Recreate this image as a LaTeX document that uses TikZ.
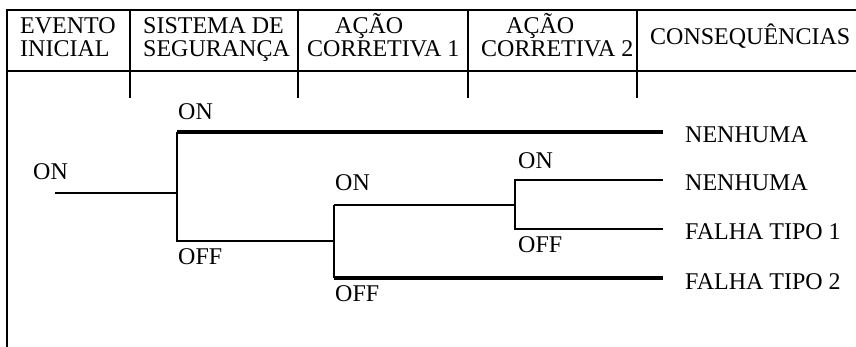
\documentclass[tikz,border=0pt]{standalone}
\usepackage{fontspec}
\setmainfont{Liberation Serif}
\begin{document}
\begin{tikzpicture}[x=1pt,y=-1pt,
  txt/.style={inner sep=0pt,anchor=west,text height=16pt,text depth=0pt,font=\fontsize{24}{24}\selectfont},
  frame/.style={line width=2.6pt,line cap=rect},
  branch/.style={line width=2.8pt},
  endbranch/.style={line width=4.2pt}]
\useasboundingbox (0,0) rectangle (856,347);
% frame
\coordinate (tl) at (7,10);
\coordinate (tr) at (856,10);
\coordinate (ml) at (7,71);
\coordinate (mr) at (856,71);
\coordinate (bl) at (7,347);
\draw[frame] (tr) -- (tl) -- (bl);
\draw[frame] (ml) -- (mr);
\foreach \x/\n in {130/a,298/b,468/c,637/d}{
  \coordinate (d\n1) at (\x,10);
  \coordinate (d\n2) at (\x,97);
  \draw[frame] (d\n1) -- (d\n2);
}
% header texts
\node[txt] (h1a) at (20,26) {EVENTO};
\node[txt] (h1b) at (20,49) {INICIAL};
\node[txt] (h2a) at (143,26) {SISTEMA DE};
\node[txt] (h2b) at (143,49) {SEGURANÇA};
\node[txt] (h3a) at (335,26) {AÇÃO};
\node[txt] (h3b) at (307,49) {CORRETIVA 1};
\node[txt] (h4a) at (506,26) {AÇÃO};
\node[txt] (h4b) at (481,49) {CORRETIVA 2};
\node[txt] (h5) at (650,37) {CONSEQUÊNCIAS};
% tree points
\coordinate (s) at (55,193);
\coordinate (j1) at (177,193);
\coordinate (j1t) at (177,132);
\coordinate (j1b) at (177,241);
\coordinate (j2) at (334,241);
\coordinate (j2t) at (334,205);
\coordinate (j2b) at (334,278);
\coordinate (j3) at (515,205);
\coordinate (j3t) at (515,180);
\coordinate (j3b) at (515,229);
\coordinate (e1) at (663,132);
\coordinate (e2) at (663,180);
\coordinate (e3) at (663,229);
\coordinate (e4) at (663,278);
\draw[branch] (s) -- (j1);
\draw[branch] (j1t) -- (j1b) -- (j2);
\draw[endbranch] (j1t) -- (e1);
\draw[branch] (j2t) -- (j2b);
\draw[branch] (j2t) -- (j3);
\draw[endbranch] (j2b) -- (e4);
\draw[branch] (e2) -- (j3t) -- (j3b) -- (e3);
% branch labels
\node[txt] (l0) at (33,172) {ON};
\node[txt] (l1) at (178,112) {ON};
\node[txt] (l2) at (178,257) {OFF};
\node[txt] (l3) at (335,183) {ON};
\node[txt] (l4) at (335,293) {OFF};
\node[txt] (l5) at (518,161) {ON};
\node[txt] (l6) at (518,245) {OFF};
% consequences
\node[txt] (c1) at (685,135) {NENHUMA};
\node[txt] (c2) at (685,183) {NENHUMA};
\node[txt] (c3) at (685,232) {FALHA TIPO 1};
\node[txt] (c4) at (685,281) {FALHA TIPO 2};
\end{tikzpicture}
\end{document}
